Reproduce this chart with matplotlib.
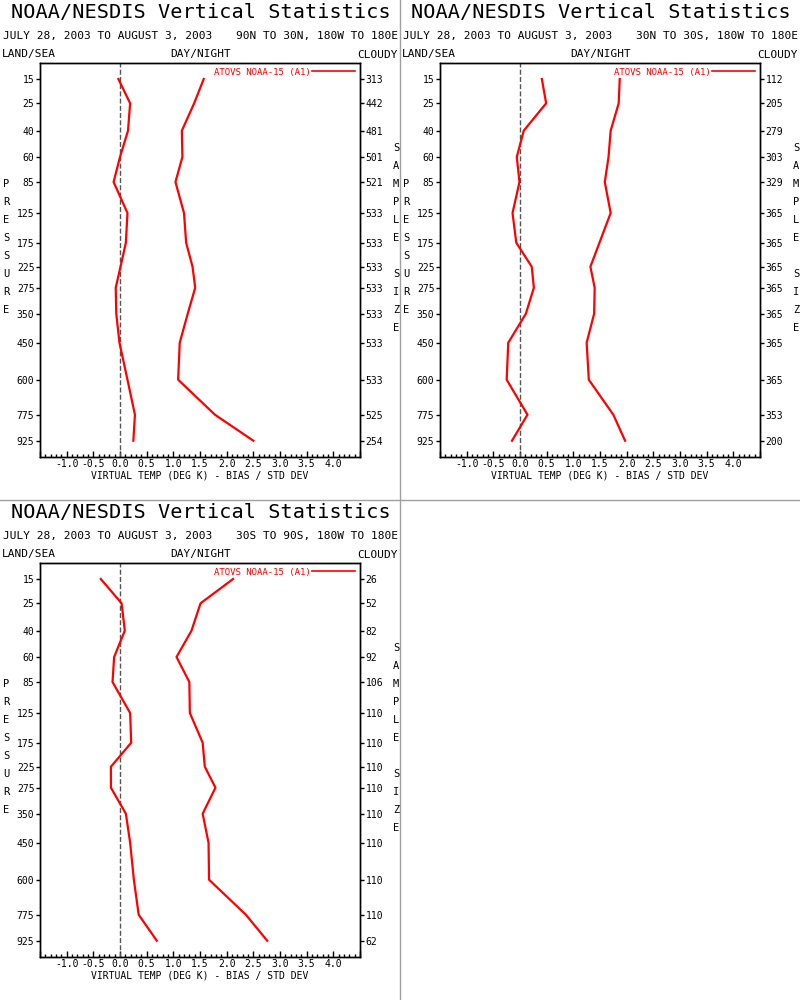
#!/usr/bin/env python3
"""
NOAA/NESDIS vertical statistics - virtual temperature bias / std dev profiles
"""

import matplotlib

matplotlib.use("Agg")
import matplotlib.pyplot as plt
import numpy as np
from matplotlib.lines import Line2D
from matplotlib.ticker import MultipleLocator

plt.rcParams["font.family"] = ["DejaVu Sans Mono", "DejaVu Sans"]

TITLE = "NOAA/NESDIS Vertical Statistics"
DATES = "JULY 28, 2003 TO AUGUST 3, 2003"
REGIONS = ["90N TO 30N, 180W TO 180E", "30N TO 30S, 180W TO 180E", "30S TO 90S, 180W TO 180E"]
SERIES_LABEL = "ATOVS NOAA-15 (A1)"
XLABEL = "VIRTUAL TEMP (DEG K) - BIAS / STD DEV"

LEVELS = [15, 25, 40, 60, 85, 125, 175, 225, 275, 350, 450, 600, 775, 925]

# 90N - 30N
BIAS_NH = [-0.03, 0.19, 0.15, 0.0, -0.12, 0.14, 0.11, 0.01, -0.08, -0.07, -0.01, 0.14, 0.28, 0.25]
STD_NH = [1.57, 1.39, 1.16, 1.17, 1.04, 1.2, 1.24, 1.36, 1.41, 1.27, 1.12, 1.09, 1.78, 2.5]
COUNT_NH = [313, 442, 481, 501, 521, 533, 533, 533, 533, 533, 533, 533, 525, 254]

# 30N - 30S
BIAS_TR = [0.41, 0.49, 0.07, -0.06, -0.01, -0.14, -0.07, 0.22, 0.26, 0.11, -0.22, -0.25, 0.14, -0.15]
STD_TR = [1.87, 1.85, 1.7, 1.66, 1.59, 1.7, 1.49, 1.32, 1.4, 1.39, 1.25, 1.29, 1.75, 1.97]
COUNT_TR = [112, 205, 279, 303, 329, 365, 365, 365, 365, 365, 365, 365, 353, 200]

# 30S - 90S
BIAS_SH = [-0.36, 0.03, 0.09, -0.11, -0.14, 0.19, 0.21, -0.17, -0.17, 0.11, 0.19, 0.26, 0.35, 0.69]
STD_SH = [2.12, 1.51, 1.34, 1.06, 1.3, 1.31, 1.55, 1.59, 1.79, 1.55, 1.66, 1.67, 2.36, 2.76]
COUNT_SH = [26, 52, 82, 92, 106, 110, 110, 110, 110, 110, 110, 110, 110, 62]

# the chart's own pressure scale: pixel row of each level inside a 400x500 panel
LEVEL_ROWS = [79, 103.3, 130.7, 157, 182, 213, 242.7, 266.7, 287.7, 313.7, 342.7, 379.7, 414.7, 440.7]
P_EXT = [0] + LEVELS + [1100]
ROW_EXT = [40] + LEVEL_ROWS + [480]

FIG_W, FIG_H = 800, 1000
BOX_LEFT, BOX_RIGHT, BOX_TOP, BOX_BOTTOM = 40, 360, 63, 456.5
RED = "#ff0000"


def to_row(p):
    return np.interp(p, P_EXT, ROW_EXT)


def from_row(r):
    return np.interp(r, ROW_EXT, P_EXT)


def put(fig, ox, oy, x, y, s, ha="left", size=8, **kw):
    fig.text((ox + x) / FIG_W, 1 - (oy + y) / FIG_H, s, ha=ha, va="baseline", fontsize=size, **kw)


def draw_panel(fig, ox, oy, region, bias, std, counts):
    """one 400x500 panel"""
    put(fig, ox, oy, 201, 18.3, TITLE, ha="center", size=14.6)
    put(fig, ox, oy, 3, 39, DATES, size=8)
    put(fig, ox, oy, 398, 39, region, ha="right", size=8)
    put(fig, ox, oy, 2, 57.5, "LAND/SEA", size=8)
    put(fig, ox, oy, 201, 57.5, "DAY/NIGHT", ha="center", size=8)
    put(fig, ox, oy, 398, 57.5, "CLOUDY", ha="right", size=8)

    for i, ch in enumerate("PRESSURE"):
        put(fig, ox, oy, 6, 187.2 + 18 * i, ch, ha="center", size=7.5)
    for i, ch in enumerate("SAMPLE SIZE"):
        put(fig, ox, oy, 396, 151.2 + 18 * i, ch, ha="center", size=7.5)

    ax = fig.add_axes([
        (ox + BOX_LEFT) / FIG_W,
        1 - (oy + BOX_BOTTOM) / FIG_H,
        (BOX_RIGHT - BOX_LEFT) / FIG_W,
        (BOX_BOTTOM - BOX_TOP) / FIG_H,
    ])
    ax.set_yscale("function", functions=(to_row, from_row))
    ax.set_ylim(from_row(BOX_BOTTOM), from_row(BOX_TOP))
    ax.set_xlim(-1.5, 4.5)

    ax.axvline(0, color="#555555", lw=1, linestyle=(0, (3.6, 1.6)))
    ax.plot(bias, LEVELS, color=RED, lw=1.6)
    ax.plot(std, LEVELS, color=RED, lw=1.6)

    # labels only from -1.0 to 4.0, the box edges get bare ticks
    major = np.arange(-1.5, 4.51, 0.5)
    ax.set_xticks(major)
    ax.set_xticklabels(["" if v < -1.4 or v > 4.4 else f"{v:.1f}" for v in major])
    ax.xaxis.set_minor_locator(MultipleLocator(0.1))
    ax.tick_params(axis="x", which="major", direction="in", length=4, width=1, labelsize=7, pad=2)
    ax.tick_params(axis="x", which="minor", direction="in", length=2, width=1)

    ax.set_yticks(LEVELS)
    ax.set_yticklabels([str(p) for p in LEVELS])
    ax.yaxis.set_minor_locator(plt.NullLocator())
    ax.tick_params(axis="y", direction="out", length=3, width=1, labelsize=7, pad=1)

    ax2 = ax.twinx()
    ax2.set_yscale("function", functions=(to_row, from_row))
    ax2.set_ylim(ax.get_ylim())
    ax2.set_yticks(LEVELS)
    ax2.set_yticklabels([str(n) for n in counts])
    ax2.yaxis.set_minor_locator(plt.NullLocator())
    ax2.tick_params(axis="y", direction="out", length=3, width=1, labelsize=7, pad=1)

    for a in (ax, ax2):
        for sp in a.spines.values():
            sp.set_linewidth(1)
            sp.set_color("black")

    ax.set_xlabel(XLABEL, fontsize=7, labelpad=1)

    ax.legend(
        handles=[Line2D([], [], color=RED, lw=1.2)],
        labels=[SERIES_LABEL],
        loc="upper right",
        bbox_to_anchor=(1.0, 1.0),
        frameon=False,
        markerfirst=False,
        handlelength=4.8,
        handletextpad=0.2,
        borderaxespad=0.2,
        borderpad=0.3,
        prop={"size": 6.5},
        labelcolor=RED,
    )
    return ax


def main():
    fig = plt.figure(figsize=(FIG_W / 100, FIG_H / 100), dpi=100)
    fig.patch.set_facecolor("white")

    draw_panel(fig, 0, 0, REGIONS[0], BIAS_NH, STD_NH, COUNT_NH)
    draw_panel(fig, 400, 0, REGIONS[1], BIAS_TR, STD_TR, COUNT_TR)
    draw_panel(fig, 0, 500, REGIONS[2], BIAS_SH, STD_SH, COUNT_SH)

    # panel separators
    fig.add_artist(Line2D([0.5, 0.5], [0, 1], transform=fig.transFigure, color="#a0a0a0", lw=1))
    fig.add_artist(Line2D([0, 1], [0.5, 0.5], transform=fig.transFigure, color="#a0a0a0", lw=1))

    fig.savefig("out.png", dpi=100)
    plt.close(fig)


if __name__ == "__main__":
    main()
